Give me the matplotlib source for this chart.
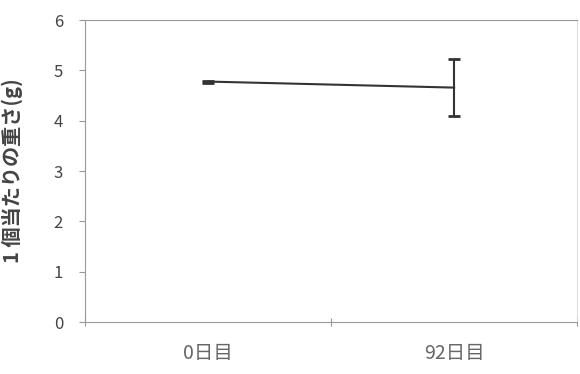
import numpy as np
import matplotlib as mpl
import matplotlib.pyplot as plt

days = ['0日目', '92日目']
weight = [4.78, 4.66]
err = [0.02, 0.56]

mpl.rcParams['font.family'] = ['Noto Sans CJK JP', 'DejaVu Sans']
mpl.rcParams['font.size'] = 10

fig = plt.figure(figsize=(5.8, 3.74), dpi=100)
ax = fig.add_axes([0.147, 0.139, 0.848, 0.807])

x = np.arange(len(days))
ax.errorbar(x, weight, yerr=err, color='#333333', lw=1.5, capsize=4, capthick=2,
            elinewidth=1.5)

ax.set_xlim(-0.5, 1.5)
ax.set_ylim(0, 6)
ax.set_yticks(range(0, 7))
ax.set_xticks([-0.5, 0.5, 1.5], minor=False)
ax.set_xticklabels([])
ax.set_xticks(x, minor=True)
ax.set_xticklabels(days, minor=True, color='#666666', fontsize=14)
ax.tick_params(axis='x', which='minor', length=0, pad=15)
ax.tick_params(axis='x', which='major', direction='inout', length=6, color='#999999')
ax.tick_params(axis='y', direction='out', length=4, color='#999999', labelcolor='#444444',
               labelsize=12, pad=12)

for s in ['left', 'bottom', 'top']:
    ax.spines[s].set_color('#999999')
ax.spines['right'].set_color('#dddddd')

ax.set_ylabel('1 個当たりの重さ(g)', color='#444444', fontsize=14.5, fontweight='bold')
ax.yaxis.set_label_coords(-0.126, 0.5)

fig.savefig('out.png', dpi=100)
